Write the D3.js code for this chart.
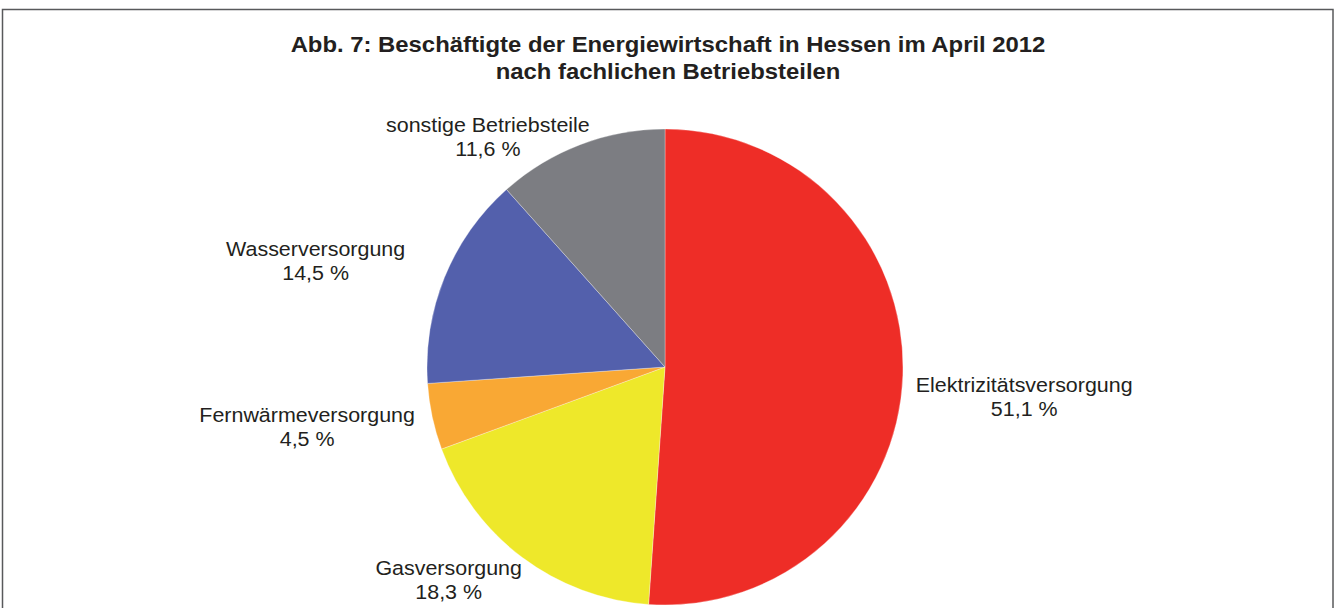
<!DOCTYPE html>
<html><head><meta charset="utf-8">
<script src="https://cdn.jsdelivr.net/npm/d3@7"></script>
<style>html,body{margin:0;padding:0;background:#fff;}svg{display:block;}</style>
</head><body>
<svg id="chart" width="1336" height="608"></svg>
<script>
const titleLines = ["Abb. 7: Beschäftigte der Energiewirtschaft in Hessen im April 2012", "nach fachlichen Betriebsteilen"];
const categories = ["Elektrizitätsversorgung", "Gasversorgung", "Fernwärmeversorgung", "Wasserversorgung", "sonstige Betriebsteile"];
const values = [51.1, 18.3, 4.5, 14.5, 11.6];
const valueLabels = ["51,1 %", "18,3 %", "4,5 %", "14,5 %", "11,6 %"];
const colors = ["#ee2d27", "#eee82a", "#f9a834", "#5360ac", "#7c7d82"];

// layout (not data)
const W = 1336, H = 608;
const cx = 665, cy = 367, r = 238, gap = 14, lineH = 24;
const stretch = 1.1;
const labelNudge = {
  "Elektrizitätsversorgung": [-1, 22],
  "Gasversorgung": [-21, -6],
  "Fernwärmeversorgung": [-6, 4],
  "Wasserversorgung": [-33, 0],
  "sonstige Betriebsteile": [-51, 30]
};

const svg = d3.select("#chart");
svg.append("rect").attr("x", 2.5).attr("y", 9.5).attr("width", 1330.5).attr("height", 640)
  .attr("fill", "#fff").attr("stroke", "#58595b").attr("stroke-width", 1.5);

const tg = svg.append("g").attr("transform", `translate(668,52) scale(${stretch},1)`);
const title = tg.append("text").attr("x", 0).attr("y", 0)
  .attr("text-anchor", "middle").attr("font-family", "Liberation Sans, Arial, sans-serif")
  .attr("font-weight", "bold").attr("font-size", 21.7).attr("fill", "#231f20");
titleLines.forEach((t, i) => title.append("tspan").attr("x", 0).attr("dy", i ? 27 : 0).text(t));

const data = categories.map((c, i) => ({ name: c, value: values[i], label: valueLabels[i], color: colors[i] }));
const pie = d3.pie().sort(null).value(d => d.value);
const arcs = pie(data);
const arc = d3.arc().innerRadius(0).outerRadius(r);

const g = svg.append("g").attr("transform", `translate(${cx},${cy})`);
g.selectAll("path").data(arcs).join("path")
  .attr("d", arc).attr("fill", d => d.data.color)
  .attr("stroke", "#ffffff").attr("stroke-width", 0.5).attr("stroke-opacity", 0.6);

const lbl = g.selectAll("g.lbl").data(arcs).join("g").attr("class", "lbl");
lbl.each(function (d) {
  const sel = d3.select(this);
  const inner = sel.append("g").attr("transform", `scale(${stretch},1)`);
  const t = inner.append("text").attr("text-anchor", "middle")
    .attr("font-family", "Liberation Sans, Arial, sans-serif").attr("font-size", 19.5).attr("fill", "#231f20");
  t.append("tspan").attr("x", 0).attr("y", 0).text(d.data.name);
  t.append("tspan").attr("x", 0).attr("y", lineH).text(d.data.label);
  const w = t.node().getBBox().width * stretch, h = 48;
  const a = (d.startAngle + d.endAngle) / 2;
  const dx = Math.sin(a), dy = -Math.cos(a);
  const n = labelNudge[d.data.name] || [0, 0];
  const bx = dx * (r + gap + w / 2) + n[0];
  const by = dy * (r + gap + h / 2) + n[1];
  sel.attr("transform", `translate(${bx},${by - 7})`);
});
</script>
</body></html>
